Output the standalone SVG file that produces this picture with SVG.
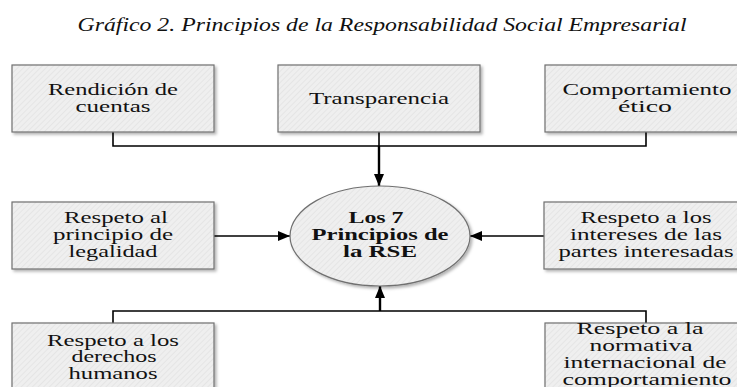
<svg xmlns="http://www.w3.org/2000/svg" width="737" height="387" viewBox="0 0 737 387">
<style>
.box{fill:url(#hatch);stroke:#707070;stroke-width:1.2;filter:url(#sh)}
.t{font-family:'Times New Roman','Liberation Serif',Tinos,Times,serif;font-size:16px;fill:#111;text-anchor:middle}
.b{font-weight:bold}
.title{font-family:'Times New Roman','Liberation Serif',Tinos,Times,serif;font-size:18px;font-style:italic;fill:#111;text-anchor:middle}
.c{fill:none;stroke:#000;stroke-width:1.6}
.ca{fill:none;stroke:#000;stroke-width:2.4}
</style>
<defs>
<pattern id="hatch" width="4" height="4" patternUnits="userSpaceOnUse" patternTransform="rotate(45)">
<rect width="4" height="4" fill="#efefef"/>
<rect width="1" height="4" fill="#e5e5e5"/>
</pattern>
<filter id="sh" x="-10%" y="-10%" width="130%" height="130%">
<feDropShadow dx="2" dy="2" stdDeviation="1.5" flood-color="#000" flood-opacity="0.3"/>
</filter>
<marker id="ah" viewBox="0 0 12 10" refX="12" refY="5" markerWidth="12" markerHeight="10" markerUnits="userSpaceOnUse" orient="auto">
<path d="M0,0 L12,5 L0,10 Z" fill="#000"/>
</marker>
</defs>
<rect width="737" height="387" fill="#fff"/>
<text class="title" x="382" y="31" textLength="609" lengthAdjust="spacingAndGlyphs">Gráfico 2. Principios de la Responsabilidad Social Empresarial</text>

<g id="connectors">
<path class="c" d="M113,132 V146 H646 V132"/>
<path class="c" d="M379,132 V146"/>
<path class="ca" d="M379,146 V186" marker-end="url(#ah)"/>
<path class="c" d="M214,236 H290" marker-end="url(#ah)"/>
<path class="c" d="M544,236 H470" marker-end="url(#ah)"/>
<path class="c" d="M113,323 V311 H646 V323"/>
<path class="ca" d="M380,311 V286" marker-end="url(#ah)"/>
</g>

<g id="n-rendicion">
<rect class="box" x="12" y="65" width="202" height="67"/>
<text class="t" x="113" y="95" textLength="130" lengthAdjust="spacingAndGlyphs">Rendición de</text>
<text class="t" x="113" y="112" textLength="75" lengthAdjust="spacingAndGlyphs">cuentas</text>
</g>
<g id="n-transparencia">
<rect class="box" x="278" y="65" width="202" height="67"/>
<text class="t" x="379" y="104" textLength="140" lengthAdjust="spacingAndGlyphs">Transparencia</text>
</g>
<g id="n-etico">
<rect class="box" x="545" y="65" width="202" height="67"/>
<text class="t" x="647" y="95" textLength="169" lengthAdjust="spacingAndGlyphs">Comportamiento</text>
<text class="t" x="645" y="112" textLength="54" lengthAdjust="spacingAndGlyphs">ético</text>
</g>
<g id="n-legalidad">
<rect class="box" x="12" y="202" width="202" height="67"/>
<text class="t" x="116" y="223" textLength="104" lengthAdjust="spacingAndGlyphs">Respeto al</text>
<text class="t" x="113" y="240" textLength="120" lengthAdjust="spacingAndGlyphs">principio de</text>
<text class="t" x="113" y="257" textLength="89" lengthAdjust="spacingAndGlyphs">legalidad</text>
</g>
<g id="n-centro">
<ellipse cx="380" cy="236" rx="90" ry="50" fill="url(#hatch)" stroke="#707070" stroke-width="1.2" filter="url(#sh)"/>
<text class="t b" x="376" y="223" textLength="55" lengthAdjust="spacingAndGlyphs">Los 7</text>
<text class="t b" x="380" y="240" textLength="137" lengthAdjust="spacingAndGlyphs">Principios de</text>
<text class="t b" x="380" y="257" textLength="74" lengthAdjust="spacingAndGlyphs">la RSE</text>
</g>
<g id="n-partes">
<rect class="box" x="544" y="202" width="203" height="67"/>
<text class="t" x="646" y="223" textLength="131" lengthAdjust="spacingAndGlyphs">Respeto a los</text>
<text class="t" x="646" y="240" textLength="152" lengthAdjust="spacingAndGlyphs">intereses de las</text>
<text class="t" x="646" y="257" textLength="175" lengthAdjust="spacingAndGlyphs">partes interesadas</text>
</g>
<g id="n-derechos">
<rect class="box" x="12" y="323" width="202" height="80"/>
<text class="t" x="113" y="346" textLength="132" lengthAdjust="spacingAndGlyphs">Respeto a los</text>
<text class="t" x="114" y="362" textLength="85" lengthAdjust="spacingAndGlyphs">derechos</text>
<text class="t" x="113" y="379" textLength="89" lengthAdjust="spacingAndGlyphs">humanos</text>
</g>
<g id="n-normativa">
<rect class="box" x="545" y="323" width="202" height="80"/>
<text class="t" x="640" y="334" textLength="127" lengthAdjust="spacingAndGlyphs">Respeto a la</text>
<text class="t" x="641" y="351" textLength="103" lengthAdjust="spacingAndGlyphs">normativa</text>
<text class="t" x="645" y="368" textLength="163" lengthAdjust="spacingAndGlyphs">internacional de</text>
<text class="t" x="647" y="385" textLength="169" lengthAdjust="spacingAndGlyphs">comportamiento</text>
</g>
</svg>
